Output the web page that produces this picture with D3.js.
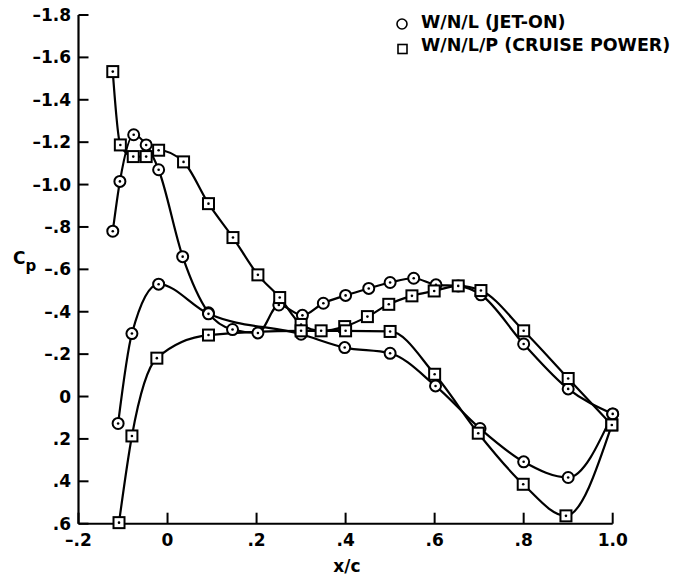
<!DOCTYPE html>
<html>
<head>
<meta charset="utf-8">
<script src="https://cdn.jsdelivr.net/npm/d3@7"></script>
<style>
	body { margin: 0; background: #fff; }
	svg { display: block; }
	text { font-family: "DejaVu Sans", sans-serif; font-weight: bold; fill: #000; }
</style>
</head>
<body>
<div id="chart"></div>
<script>
// W/N/L (jet-on), circles
const jetOnUpperX = [-0.123, -0.107, -0.076, -0.048, -0.020, 0.034, 0.092, 0.146, 0.203, 0.250, 0.303, 0.350, 0.400, 0.452, 0.500, 0.553, 0.603, 0.653, 0.704, 0.800, 0.900, 1.000];
const jetOnUpperCp = [-0.78, -1.015, -1.235, -1.187, -1.07, -0.66, -0.395, -0.316, -0.30, -0.432, -0.383, -0.44, -0.477, -0.51, -0.538, -0.558, -0.527, -0.522, -0.48, -0.248, -0.036, 0.082];
const jetOnLowerX = [-0.111, -0.080, -0.020, 0.092, 0.300, 0.398, 0.500, 0.602, 0.702, 0.800, 0.900, 1.000];
const jetOnLowerCp = [0.127, -0.297, -0.53, -0.39, -0.294, -0.231, -0.204, -0.05, 0.151, 0.308, 0.382, 0.082];

// W/N/L/P (cruise power), squares
const cruiseUpperX = [-0.123, -0.106, -0.077, -0.048, -0.020, 0.036, 0.092, 0.147, 0.203, 0.252, 0.300, 0.345, 0.398, 0.449, 0.497, 0.549, 0.599, 0.653, 0.704, 0.800, 0.900, 0.998];
const cruiseUpperCp = [-1.533, -1.187, -1.132, -1.132, -1.162, -1.107, -0.91, -0.75, -0.574, -0.467, -0.34, -0.31, -0.33, -0.377, -0.435, -0.475, -0.498, -0.522, -0.50, -0.31, -0.085, 0.134];
const cruiseLowerX = [-0.109, -0.080, -0.024, 0.092, 0.300, 0.400, 0.500, 0.600, 0.698, 0.799, 0.895, 0.998];
const cruiseLowerCp = [0.595, 0.186, -0.181, -0.29, -0.31, -0.31, -0.307, -0.105, 0.173, 0.414, 0.563, 0.134];

const xTicks = [-0.2, 0, 0.2, 0.4, 0.6, 0.8, 1.0];
const xTickLabels = ["–.2", "0", ".2", ".4", ".6", ".8", "1.0"];
const yTicks = [-1.8, -1.6, -1.4, -1.2, -1.0, -0.8, -0.6, -0.4, -0.2, 0, 0.2, 0.4, 0.6];
const yTickLabels = ["–1.8", "–1.6", "–1.4", "–1.2", "–1.0", "–.8", "–.6", "–.4", "–.2", "0", ".2", ".4", ".6"];

const legendLabels = ["W/N/L (JET-ON)", "W/N/L/P (CRUISE POWER)"];

const W = 684, H = 579;
const x = d3.scaleLinear().domain([-0.2, 1.0]).range([78.5, 612.7]);
const y = d3.scaleLinear().domain([-1.8, 0.6]).range([15, 523.7]);

const svg = d3.select("#chart").append("svg").attr("width", W).attr("height", H);

const zip = (xs, ys) => xs.map((v, i) => [v, ys[i]]);
const series = [
	{ pts: zip(jetOnUpperX, jetOnUpperCp), shape: "circle" },
	{ pts: zip(jetOnLowerX, jetOnLowerCp), shape: "circle" },
	{ pts: zip(cruiseUpperX, cruiseUpperCp), shape: "square" },
	{ pts: zip(cruiseLowerX, cruiseLowerCp), shape: "square" },
];

// axes
const axisG = svg.append("g");
axisG.append("line")
	.attr("x1", x(-0.2)).attr("x2", x(-0.2))
	.attr("y1", y(-1.8)).attr("y2", y(0.6))
	.attr("stroke", "#000").attr("stroke-width", 2.2);
axisG.append("line")
	.attr("x1", x(-0.2)).attr("x2", x(1.0))
	.attr("y1", y(0.6)).attr("y2", y(0.6))
	.attr("stroke", "#000").attr("stroke-width", 2);

axisG.selectAll(".yt").data(yTicks).enter().append("line")
	.attr("x1", x(-0.2)).attr("x2", x(-0.2) + 10)
	.attr("y1", (d) => y(d)).attr("y2", (d) => y(d))
	.attr("stroke", "#000").attr("stroke-width", 2);
axisG.selectAll(".ytl").data(yTicks).enter().append("text")
	.attr("x", 71).attr("y", (d) => y(d) + 6)
	.attr("text-anchor", "end")
	.style("font-size", "17px")
	.text((d, i) => yTickLabels[i]);

axisG.selectAll(".xt").data(xTicks).enter().append("line")
	.attr("x1", (d) => x(d)).attr("x2", (d) => x(d))
	.attr("y1", y(0.6)).attr("y2", y(0.6) - 11)
	.attr("stroke", "#000").attr("stroke-width", 2);
axisG.selectAll(".xtl").data(xTicks).enter().append("text")
	.attr("x", (d) => x(d)).attr("y", 546)
	.attr("text-anchor", "middle")
	.style("font-size", "17px")
	.text((d, i) => xTickLabels[i]);

svg.append("text").attr("x", 347).attr("y", 572)
	.attr("text-anchor", "middle").style("font-size", "17px").text("x/c");

const cp = svg.append("text").attr("x", 13).attr("y", 264).style("font-size", "17px");
cp.append("tspan").text("C");
cp.append("tspan").attr("dy", 7).style("font-size", "15px").text("p");

// curves
const line = d3.line()
	.x((d) => x(d[0]))
	.y((d) => y(d[1]))
	.curve(d3.curveMonotoneX);

svg.append("g").selectAll("path").data(series).enter().append("path")
	.attr("d", (s) => line(s.pts))
	.attr("fill", "none")
	.attr("stroke", "#000")
	.attr("stroke-width", 2.2);

// markers
const mk = svg.append("g");
series.forEach((s) => {
	const g = mk.append("g");
	if (s.shape === "circle") {
		g.selectAll("circle.m").data(s.pts).enter().append("circle")
			.attr("cx", (d) => x(d[0])).attr("cy", (d) => y(d[1])).attr("r", 5.5)
			.attr("fill", "#fff").attr("stroke", "#000").attr("stroke-width", 2);
	} else {
		g.selectAll("rect").data(s.pts).enter().append("rect")
			.attr("x", (d) => x(d[0]) - 5.5).attr("y", (d) => y(d[1]) - 5.5)
			.attr("width", 11).attr("height", 11)
			.attr("fill", "#fff").attr("stroke", "#000").attr("stroke-width", 2);
	}
	g.selectAll("circle.dot").data(s.pts).enter().append("circle")
		.attr("cx", (d) => x(d[0])).attr("cy", (d) => y(d[1])).attr("r", 1.3)
		.attr("fill", "#000");
});

// legend
const lg = svg.append("g");
lg.append("circle").attr("cx", 402).attr("cy", 24).attr("r", 5)
	.attr("fill", "none").attr("stroke", "#000").attr("stroke-width", 1.6);
lg.append("rect").attr("x", 398).attr("y", 44.5).attr("width", 9).attr("height", 9)
	.attr("fill", "none").attr("stroke", "#000").attr("stroke-width", 1.6);
lg.selectAll("text").data(legendLabels).enter().append("text")
	.attr("x", 421).attr("y", (d, i) => 28 + i * 23)
	.style("font-size", "17.5px")
	.text((d) => d);
</script>
</body>
</html>
